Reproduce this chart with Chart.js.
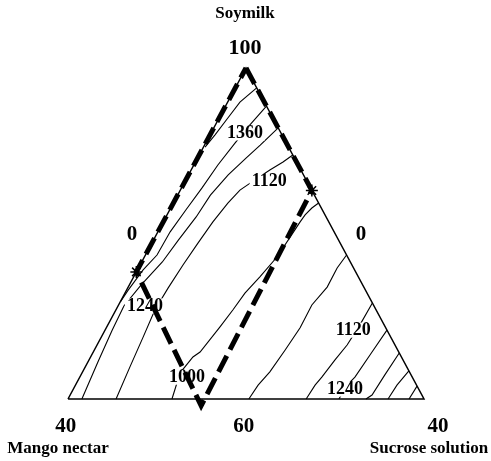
<!DOCTYPE html>
<html>
<head>
<meta charset="utf-8">
<script src="https://cdn.jsdelivr.net/npm/chart.js@4/dist/chart.umd.min.js"></script>
<style>
  html, body { margin: 0; padding: 0; background: #fff; }
  canvas { display: block; }
</style>
</head>
<body>
<canvas id="ternary" width="491" height="461"></canvas>
<script>
// triangle: base from x=0 to x=100, apex at (50,100)
var triangleEdge = [[0, 0], [50, 100], [100, 0], [0, 0]];

// contour lines, lower-left to upper-right
var contourTopHug = [[38.5, 76.1], [41.3, 79.8], [44.9, 84.9], [48.3, 89.7], [53.0, 94.0]];
var contour1360 = [[14.7, 29.3], [16.9, 32.9], [21.1, 39.0], [25.0, 43.5], [28.7, 50.5], [33.1, 57.1],
  [37.6, 63.7], [42.1, 70.7], [46.9, 77.3], [51.1, 82.8], [55.75, 88.5]];
var contourLeft = [[3.9, 0], [8.4, 11.2], [12.4, 20.8], [15.7, 28.1], [20.5, 34.4], [26.5, 41.4],
  [31.0, 48.0], [36.0, 55.0], [40.0, 61.6], [45.0, 67.7], [50.0, 72.8], [54.0, 76.7], [57.0, 79.8], [59.05, 81.9]];
var contourMid = [[13.5, 0], [17.4, 9.7], [21.1, 18.7], [24.4, 26.9], [28.1, 33.5], [32.3, 40.5],
  [36.5, 47.1], [40.7, 53.5], [44.9, 59.2], [48.3, 63.1], [52.5, 66.2], [56.7, 69.2], [60.4, 71.6], [63.15, 73.7]];
var contour1000 = [[29.2, 0], [31.5, 7.9], [35.1, 12.7], [37.1, 14.2], [42.7, 21.8], [46.3, 26.9],
  [49.7, 32.0], [53.9, 36.9], [58.7, 42.9], [62.4, 48.9], [65.2, 53.5], [66.6, 55.6], [68.5, 57.7], [70.4, 59.2]];
var contourCenter = [[50.8, 0], [53.4, 4.2], [56.7, 8.2], [61.0, 14.8], [65.2, 21.5], [68.5, 28.4],
  [72.8, 33.8], [75.6, 39.6], [78.25, 43.5]];
var contour1120 = [[66.9, 0], [69.4, 4.2], [71.3, 6.6], [75.0, 11.8], [78.4, 16.3], [82.0, 22.4], [85.5, 29.0]];
var contour1240 = [[76.1, 0], [78.4, 4.2], [80.6, 6.6], [85.4, 14.2], [89.6, 20.8]];
var contourCorner1 = [[83.7, 0], [85.4, 1.2], [89.0, 7.3], [93.05, 13.9]];
var contourCorner2 = [[89.9, 0], [92.4, 4.2], [95.75, 8.5]];
var contourCorner3 = [[95.8, 0], [98.05, 3.9]];

var contours = [contourTopHug, contour1360, contourLeft, contourMid, contour1000,
  contourCenter, contour1120, contour1240, contourCorner1, contourCorner2, contourCorner3];

// optimum region outline (thick dashes)
var regionOutline = [[50, 100], [68.5, 63.0], [37.4, -2.0], [19.2, 38.4], [50, 100]];
var regionMarks = [[68.5, 63.0], [19.2, 38.4]];

var contourLabelText = ['1360', '1120', '1240', '1000', '1120', '1240'];
var contourLabelAt = [[49.7, 80.4], [56.5, 65.9], [21.6, 28.1], [33.4, 6.6], [80.1, 20.8], [77.8, 3.0]];

var tickText = ['100', '0', '0', '40', '60', '40'];
var tickAt = [[49.7, 106], [18.0, 49.8], [82.3, 49.8], [-0.6, -8.2], [49.4, -8.2], [103.9, -8.2]];

var componentNames = ['Soymilk', 'Mango nectar', 'Sucrose solution'];
var componentAt = [[49.7, 116.3], [-2.8, -15.1], [101.4, -15.1]];

var serif = '"Liberation Serif", "Times New Roman", serif';

function toPoints(arr) {
  return arr.map(function(p) { return { x: p[0], y: p[1] }; });
}

function lineSet(arr, width, order) {
  return {
    data: toPoints(arr),
    showLine: true,
    borderColor: '#000',
    borderWidth: width,
    pointRadius: 0,
    fill: false,
    clip: false,
    order: order
  };
}

var datasets = [];
// dashed outline goes first so it is painted last (on top)
var outline = lineSet(regionOutline, 5, 0);
outline.borderDash = [18, 7];
outline.borderCapStyle = 'butt';
outline.borderJoinStyle = 'miter';
datasets.push(outline);

var marks = {
  data: toPoints(regionMarks),
  showLine: false,
  pointStyle: 'star',
  pointRadius: 6,
  borderColor: '#000',
  backgroundColor: '#000',
  borderWidth: 1.5,
  clip: false,
  order: 0
};
datasets.push(marks);

var edge = lineSet(triangleEdge, 1.5, 2);
edge.borderJoinStyle = 'miter';
datasets.push(edge);

contours.forEach(function(c) {
  datasets.push(lineSet(c, 1.1, 3));
});

function drawText(ctx, chart, text, at, size, boxed) {
  var xs = chart.scales.x, ys = chart.scales.y;
  var px = xs.getPixelForValue(at[0]);
  var py = ys.getPixelForValue(at[1]);
  ctx.font = 'bold ' + size + 'px ' + serif;
  ctx.textAlign = 'center';
  ctx.textBaseline = 'middle';
  if (boxed) {
    var w = ctx.measureText(text).width;
    ctx.fillStyle = '#fff';
    ctx.fillRect(px - w / 2 - 2, py - size * 0.42, w + 4, size * 0.84);
  }
  ctx.fillStyle = '#000';
  ctx.fillText(text, px, py);
}

var ternaryText = {
  id: 'ternaryText',
  beforeDatasetDraw: function(chart, args) {
    // contour values sit under the dashed outline but over the contours
    if (args.index !== 0) return;
    var ctx = chart.ctx;
    ctx.save();
    contourLabelText.forEach(function(t, i) {
      drawText(ctx, chart, t, contourLabelAt[i], 18, true);
    });
    ctx.restore();
  },
  afterDraw: function(chart) {
    var ctx = chart.ctx;
    ctx.save();
    tickText.forEach(function(t, i) {
      drawText(ctx, chart, t, tickAt[i], i === 0 ? 22 : 21, false);
    });
    componentNames.forEach(function(t, i) {
      drawText(ctx, chart, t, componentAt[i], 17, false);
    });
    ctx.restore();
  }
};

var ctx = document.getElementById('ternary').getContext('2d');
new Chart(ctx, {
  type: 'scatter',
  data: { datasets: datasets },
  options: {
    responsive: false,
    animation: false,
    devicePixelRatio: 1,
    layout: { padding: { left: 68, right: 67, top: 68, bottom: 62 } },
    scales: {
      x: { type: 'linear', min: 0, max: 100, display: false },
      y: { type: 'linear', min: 0, max: 100, display: false }
    },
    plugins: {
      legend: { display: false },
      tooltip: { enabled: false }
    }
  },
  plugins: [ternaryText]
});
</script>
</body>
</html>
